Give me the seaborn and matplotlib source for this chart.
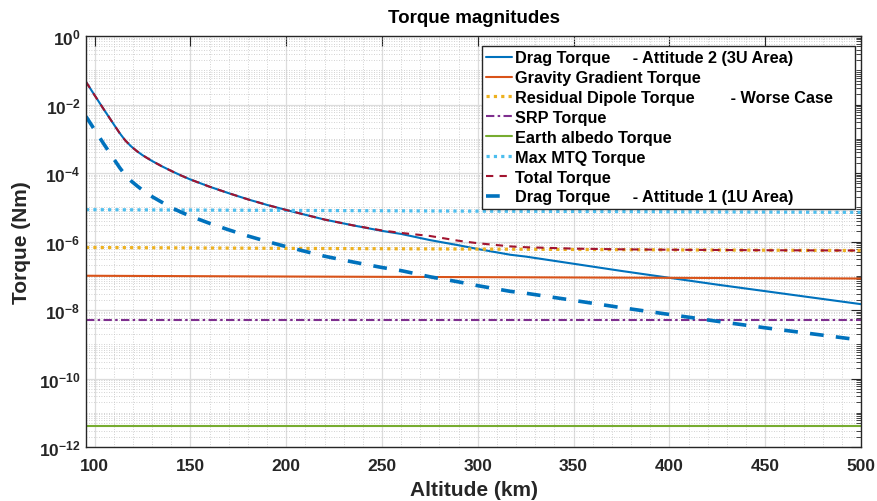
import numpy as np
import pandas as pd
import matplotlib
matplotlib.use("Agg")
import matplotlib.pyplot as plt
import matplotlib.ticker as mticker
import seaborn as sns

# ---------------- data ----------------
alt_curve = [95.5, 100, 105, 110, 113, 116, 119, 122, 125, 130, 135, 140, 145, 150,
             160, 170, 180, 190, 200, 210, 220, 235, 250, 260, 275, 290, 300, 317,
             325, 350, 375, 400, 425, 450, 475, 500]
drag_att2 = [4.57e-2, 1.86e-2, 6.92e-3, 2.63e-3, 1.48e-3, 8.91e-4, 6.03e-4, 4.37e-4,
             3.31e-4, 2.24e-4, 1.58e-4, 1.15e-4, 8.51e-5, 6.46e-5, 3.98e-5, 2.57e-5,
             1.70e-5, 1.17e-5, 8.32e-6, 6.03e-6, 4.37e-6, 2.95e-6, 2.04e-6, 1.66e-6,
             1.10e-6, 7.76e-7, 6.03e-7, 4.10e-7, 3.63e-7, 2.24e-7, 1.38e-7, 8.71e-8,
             5.50e-8, 3.55e-8, 2.29e-8, 1.48e-8]
drag_att1 = [4.47e-3, 1.82e-3, 6.76e-4, 2.57e-4, 1.45e-4, 8.71e-5, 5.89e-5, 4.27e-5,
             3.16e-5, 2.04e-5, 1.41e-5, 9.77e-6, 7.24e-6, 5.50e-6, 3.39e-6, 2.19e-6,
             1.45e-6, 1.00e-6, 7.08e-7, 5.13e-7, 3.72e-7, 2.51e-7, 1.74e-7, 1.41e-7,
             9.33e-8, 6.61e-8, 5.13e-8, 3.50e-8, 3.09e-8, 1.91e-8, 1.17e-8, 7.41e-9,
             4.68e-9, 3.02e-9, 2.00e-9, 1.32e-9]
total_torque = [4.57e-2, 1.86e-2, 6.92e-3, 2.63e-3, 1.48e-3, 8.91e-4, 6.03e-4, 4.37e-4,
                3.31e-4, 2.24e-4, 1.58e-4, 1.15e-4, 8.51e-5, 6.46e-5, 3.98e-5, 2.57e-5,
                1.70e-5, 1.17e-5, 8.32e-6, 6.03e-6, 4.37e-6, 2.95e-6, 2.10e-6, 1.78e-6,
                1.45e-6, 1.05e-6, 8.90e-7, 7.20e-7, 6.80e-7, 6.20e-7, 5.90e-7, 5.75e-7,
                5.65e-7, 5.55e-7, 5.50e-7, 5.45e-7]

alt_flat = [95.5, 200, 300, 400, 500]
gravity_gradient = [1.0e-7, 9.5e-8, 9.1e-8, 8.7e-8, 8.3e-8]
residual_dipole = [6.7e-7, 6.3e-7, 6.0e-7, 5.7e-7, 5.45e-7]
srp_torque = [5.0e-9, 5.0e-9, 5.0e-9, 5.0e-9, 5.0e-9]
albedo_torque = [4.2e-12, 4.2e-12, 4.2e-12, 4.2e-12, 4.2e-12]
max_mtq = [8.5e-6, 8.1e-6, 7.7e-6, 7.4e-6, 7.1e-6]

labels = ["Drag Torque     - Attitude 2 (3U Area)",
          "Gravity Gradient Torque",
          "Residual Dipole Torque        - Worse Case    ",
          "SRP Torque",
          "Earth albedo Torque",
          "Max MTQ Torque",
          "Total Torque",
          "Drag Torque     - Attitude 1 (1U Area)"]

xtick_values = [100, 150, 200, 250, 300, 350, 400, 450, 500]
ytick_exponents = [0, -2, -4, -6, -8, -10, -12]

title_text = "Torque magnitudes"
xlabel_text = "Altitude (km)"
ylabel_text = "Torque (Nm)"

# ---------------- style ----------------
sns.set_theme(style="white")
plt.rcParams['font.family'] = ['Liberation Sans', 'DejaVu Sans']
plt.rcParams['font.weight'] = 'bold'
plt.rcParams['mathtext.fontset'] = 'custom'
plt.rcParams['mathtext.bf'] = 'Liberation Sans:bold'
plt.rcParams['mathtext.rm'] = 'Liberation Sans:bold'
plt.rcParams['mathtext.default'] = 'bf'

fig = plt.figure(figsize=(8.77, 5.02), dpi=100)
fig.patch.set_facecolor('white')
ax = fig.add_axes([86 / 877, 54 / 502, 775 / 877, 411 / 502])
ax.set_facecolor('white')

C_BLUE = '#0072BD'
C_ORANGE = '#D95319'
C_YELLOW = '#EDB120'
C_PURPLE = '#7E2F8E'
C_GREEN = '#77AC30'
C_CYAN = '#4DBEEE'
C_RED = '#A2142F'

df_c = pd.DataFrame({'alt': alt_curve, 'd2': drag_att2, 'd1': drag_att1, 'tot': total_torque})
df_f = pd.DataFrame({'alt': alt_flat, 'gg': gravity_gradient, 'rd': residual_dipole,
                     'srp': srp_torque, 'alb': albedo_torque, 'mtq': max_mtq})

specs = [
    (df_c, 'd2', C_BLUE, 1.5, '-', labels[0]),
    (df_f, 'gg', C_ORANGE, 1.5, '-', labels[1]),
    (df_f, 'rd', C_YELLOW, 2.3, (0, (1.0, 1.3)), labels[2]),
    (df_f, 'srp', C_PURPLE, 1.5, (0, (4.0, 1.6, 1.2, 1.6)), labels[3]),
    (df_f, 'alb', C_GREEN, 1.5, '-', labels[4]),
    (df_f, 'mtq', C_CYAN, 2.3, (0, (1.0, 1.3)), labels[5]),
    (df_c, 'tot', C_RED, 1.5, (0, (3.5, 3.0)), labels[6]),
    (df_c, 'd1', C_BLUE, 2.6, (0, (3.8, 3.4)), labels[7]),
]
for data, col, color, lw, ls, lab in specs:
    sns.lineplot(data=data, x='alt', y=col, ax=ax, color=color, linewidth=lw,
                 linestyle=ls, label=lab, estimator=None, sort=False)

ax.set_yscale('log')
ax.set_xlim(95.5, 500)
ax.set_ylim(1e-12, 1e0)

ax.xaxis.set_major_locator(mticker.FixedLocator(xtick_values))
ax.xaxis.set_minor_locator(mticker.MultipleLocator(10))
ax.set_xticklabels([str(v) for v in xtick_values])

ax.yaxis.set_major_locator(mticker.FixedLocator([10.0 ** e for e in ytick_exponents]))
ax.yaxis.set_major_formatter(mticker.FuncFormatter(
    lambda v, p: r"$10^{%d}$" % int(round(np.log10(v)))))
ax.yaxis.set_minor_locator(mticker.LogLocator(base=10, subs=np.arange(1, 10), numticks=100))
ax.yaxis.set_minor_formatter(mticker.NullFormatter())

ax.grid(True, which='major', color='#dcdcdc', linewidth=0.9, linestyle='-')
ax.grid(True, which='minor', color='#c4c4c4', linewidth=0.6, linestyle=(0, (1, 2)))
ax.set_axisbelow(True)

ax.tick_params(axis='both', which='both', direction='in', top=True, right=True,
               colors='#262626', labelcolor='#262626')
ax.tick_params(axis='both', which='major', length=7, width=0.8, labelsize=12.5)
ax.tick_params(axis='x', which='major', pad=8)
ax.tick_params(axis='y', which='major', pad=4)
ax.tick_params(axis='y', which='minor', length=3.5, width=0.6)
ax.tick_params(axis='x', which='minor', length=0)
for lab in ax.get_xticklabels() + ax.get_yticklabels():
    lab.set_fontweight('bold')

for s in ax.spines.values():
    s.set_visible(True)
    s.set_color('#262626')
    s.set_linewidth(1.0)

ax.set_title(title_text, fontsize=13.5, fontweight='bold', color='black', pad=10)
ax.set_xlabel(xlabel_text, fontsize=15, fontweight='bold', color='#262626', labelpad=5)
ax.set_ylabel(ylabel_text, fontsize=15, fontweight='bold', color='#262626', labelpad=6)

leg = ax.legend(loc='upper right', bbox_to_anchor=(0.9923, 0.9757), borderaxespad=0,
                frameon=True, fancybox=False, framealpha=1, edgecolor='#262626',
                fontsize=11.7, handlelength=1.55, handletextpad=0.2, labelspacing=0.3,
                borderpad=0.27)
for t in leg.get_texts():
    t.set_fontweight('bold')
    t.set_fontfamily(['Liberation Sans', 'DejaVu Sans'])
    t.set_color('black')
leg.get_frame().set_linewidth(1.0)

fig.savefig('out.png', dpi=100, facecolor='white')
